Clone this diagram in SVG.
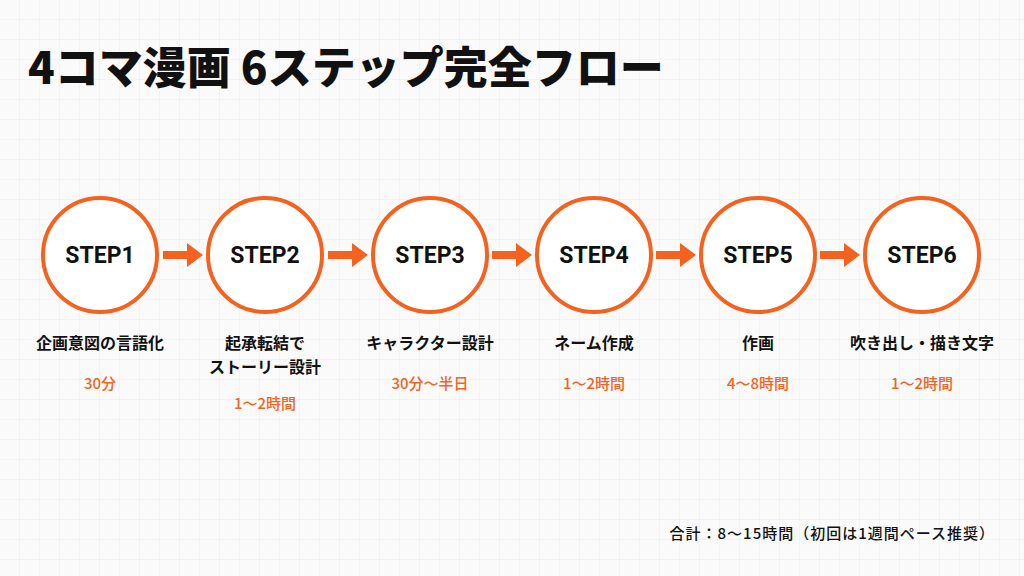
<svg xmlns="http://www.w3.org/2000/svg" width="1024" height="576" viewBox="0 0 1024 576">
<defs>
<pattern id="grid" width="20" height="20" patternUnits="userSpaceOnUse"><path d="M20 0V20H0" fill="none" stroke="#ececec" stroke-width="1"/></pattern>
<style>
.c{fill:#fff;stroke:#F4621F;stroke-width:4}
.s{font-family:Roboto,"Noto Sans",sans-serif;font-weight:700;font-size:23px;fill:#111;text-anchor:middle}
.l{font-family:"Noto Sans CJK JP",sans-serif;font-weight:700;font-size:16px;fill:#111;text-anchor:middle}
.t{font-family:"Noto Sans CJK JP",sans-serif;font-weight:500;font-size:15px;fill:#F4621F;text-anchor:middle}
.a{fill:#F4621F}
</style>
<path id="arr" d="M0 -4H24V-12L40 0L24 12V4H0Z"/>
</defs>
<rect width="1024" height="576" fill="#fafafa"/>
<rect width="1024" height="576" fill="url(#grid)"/>
<text x="28" y="84" font-family="'Noto Sans CJK JP',sans-serif" font-weight="900" font-size="44" fill="#111">4コマ漫画 6ステップ完全フロー</text>
<g id="connectors" class="a">
<use href="#arr" x="163" y="255"/><use href="#arr" x="328" y="255"/><use href="#arr" x="492" y="255"/><use href="#arr" x="656" y="255"/><use href="#arr" x="820" y="255"/>
</g>
<g id="step1"><circle class="c" cx="100" cy="255" r="57"/><text class="s" x="100" y="263">STEP1</text><text class="l" x="100" y="349">企画意図の言語化</text><text class="t" x="100" y="389">30分</text></g>
<g id="step2"><circle class="c" cx="265" cy="255" r="57"/><text class="s" x="265" y="263">STEP2</text><text class="l" x="265" y="349">起承転結で</text><text class="l" x="265" y="373">ストーリー設計</text><text class="t" x="265" y="409">1〜2時間</text></g>
<g id="step3"><circle class="c" cx="430" cy="255" r="57"/><text class="s" x="430" y="263">STEP3</text><text class="l" x="430" y="349">キャラクター設計</text><text class="t" x="430" y="389">30分〜半日</text></g>
<g id="step4"><circle class="c" cx="594" cy="255" r="57"/><text class="s" x="594" y="263">STEP4</text><text class="l" x="594" y="349">ネーム作成</text><text class="t" x="594" y="389">1〜2時間</text></g>
<g id="step5"><circle class="c" cx="758" cy="255" r="57"/><text class="s" x="758" y="263">STEP5</text><text class="l" x="758" y="349">作画</text><text class="t" x="758" y="389">4〜8時間</text></g>
<g id="step6"><circle class="c" cx="922" cy="255" r="57"/><text class="s" x="922" y="263">STEP6</text><text class="l" x="922" y="349">吹き出し・描き文字</text><text class="t" x="922" y="389">1〜2時間</text></g>
<text x="995" y="539" text-anchor="end" font-family="'Noto Sans CJK JP',sans-serif" font-weight="500" font-size="15" letter-spacing="1" fill="#111">合計：8〜15時間（初回は1週間ペース推奨）</text>
</svg>
